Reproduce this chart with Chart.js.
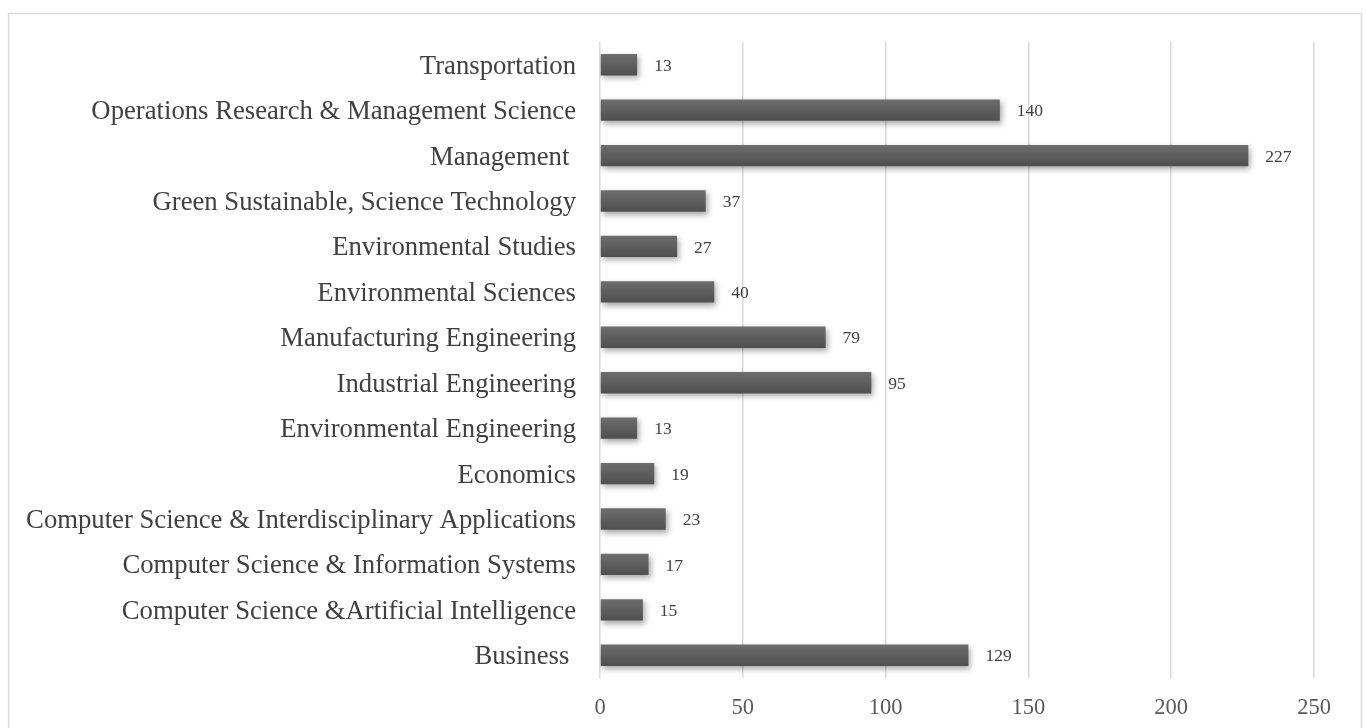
<!DOCTYPE html>
<html>
<head>
<meta charset="utf-8">
<script src="https://cdn.jsdelivr.net/npm/chart.js@4/dist/chart.umd.min.js"></script>
<style>
html,body{margin:0;padding:0;background:#fff;}
#wrap{width:1366px;height:728px;position:relative;}
</style>
</head>
<body>
<div id="wrap"><canvas id="c" width="1366" height="728"></canvas></div>
<script>
const categories = [
  "Transportation",
  "Operations Research & Management Science",
  "Management ",
  "Green Sustainable, Science Technology",
  "Environmental Studies",
  "Environmental Sciences",
  "Manufacturing Engineering",
  "Industrial Engineering",
  "Environmental Engineering",
  "Economics",
  "Computer Science & Interdisciplinary Applications",
  "Computer Science & Information Systems",
  "Computer Science &Artificial Intelligence",
  "Business "
];
const counts = [13, 140, 227, 37, 27, 40, 79, 95, 13, 19, 23, 17, 15, 129];
const xTicks = [0, 50, 100, 150, 200, 250];

const framePlugin = {
  id: 'frame',
  beforeDraw(chart) {
    const ctx = chart.ctx;
    ctx.save();
    ctx.fillStyle = '#fff';
    ctx.fillRect(0, 0, chart.width, chart.height);
    ctx.strokeStyle = '#d9d9d9';
    ctx.lineWidth = 1.5;
    ctx.strokeRect(8.5, 13.5, 1353, 740);
    ctx.restore();
  }
};

const shadowPlugin = {
  id: 'barShadow',
  beforeDatasetDraw(chart) {
    const ctx = chart.ctx;
    ctx.save();
    ctx.shadowColor = 'rgba(0,0,0,0.35)';
    ctx.shadowBlur = 6;
    ctx.shadowOffsetX = 2;
    ctx.shadowOffsetY = 3;
  },
  afterDatasetDraw(chart) {
    chart.ctx.restore();
  }
};

const labelPlugin = {
  id: 'valueLabels',
  afterDatasetsDraw(chart) {
    const ctx = chart.ctx;
    const meta = chart.getDatasetMeta(0);
    ctx.save();
    ctx.font = '17.5px "Liberation Serif", "Times New Roman", serif';
    ctx.fillStyle = '#404040';
    ctx.textAlign = 'left';
    ctx.textBaseline = 'middle';
    meta.data.forEach((bar, i) => {
      ctx.fillText(String(counts[i]), bar.x + 17, bar.y + 1.5);
    });
    ctx.restore();
  }
};

new Chart(document.getElementById('c'), {
  type: 'bar',
  data: {
    labels: categories,
    datasets: [{
      data: counts,
      backgroundColor: (c) => {
        const chart = c.chart;
        const ys = chart.scales && chart.scales.y;
        if (!ys || c.dataIndex === undefined) return '#5e5e5e';
        const y = ys.getPixelForValue(c.dataIndex);
        if (!isFinite(y)) return '#5e5e5e';
        const g = chart.ctx.createLinearGradient(0, y - 11, 0, y + 11);
        g.addColorStop(0, '#6e6e6e');
        g.addColorStop(0.5, '#5e5e5e');
        g.addColorStop(1, '#4e4e4e');
        return g;
      },
      borderWidth: 0,
      barPercentage: 0.47,
      categoryPercentage: 1.0
    }]
  },
  options: {
    indexAxis: 'y',
    responsive: false,
    animation: false,
    devicePixelRatio: 1,
    layout: { padding: { top: 42, right: 52, bottom: 0, left: 0 } },
    plugins: {
      legend: { display: false },
      tooltip: { enabled: false },
      title: { display: false }
    },
    scales: {
      x: {
        type: 'linear',
        min: 0,
        max: 250,
        afterBuildTicks: (s) => { s.ticks = xTicks.map(v => ({ value: v })); },
        afterFit: (s) => { s.height = 50; },
        grid: { color: '#d9d9d9', lineWidth: 1.5, drawTicks: false },
        border: { display: false },
        ticks: {
          padding: 17,
          color: '#595959',
          font: { family: '"Liberation Serif", "Times New Roman", serif', size: 22.5 }
        }
      },
      y: {
        afterFit: (s) => { s.width = 600; },
        grid: { display: false, drawTicks: false },
        border: { display: false },
        ticks: {
          padding: 24,
          labelOffset: 2,
          color: '#404040',
          autoSkip: false,
          font: { family: '"Liberation Serif", "Times New Roman", serif', size: 26.7 }
        }
      }
    }
  },
  plugins: [framePlugin, shadowPlugin, labelPlugin]
});
</script>
</body>
</html>
